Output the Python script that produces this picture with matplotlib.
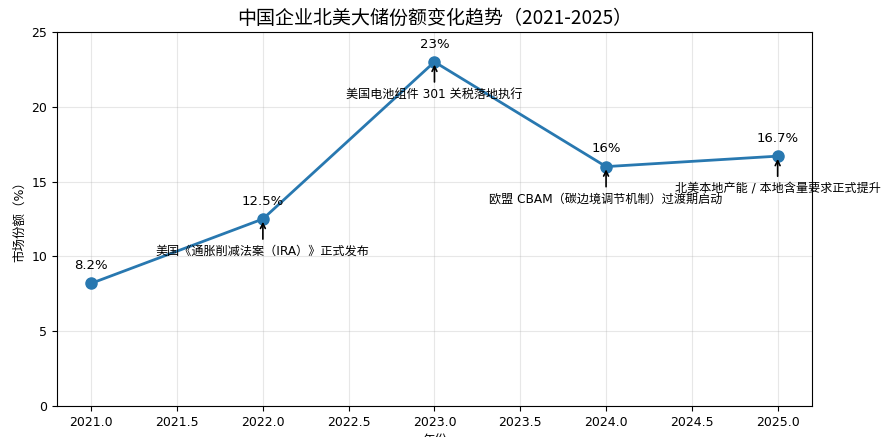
import matplotlib.pyplot as plt

plt.rcParams['font.family'] = ['DejaVu Sans', 'Noto Sans CJK SC']

anos = [2021, 2022, 2023, 2024, 2025]
participacao = [8.2, 12.5, 23, 16, 16.7]
rotulos = ['8.2%', '12.5%', '23%', '16%', '16.7%']
eventos = [
    None,
    '美国《通胀削减法案（IRA）》正式发布',
    '美国电池组件 301 关税落地执行',
    '欧盟 CBAM（碳边境调节机制）过渡期启动',
    '北美本地产能 / 本地含量要求正式提升',
]

fig = plt.figure(figsize=(8.82, 4.37), dpi=100)
ax = fig.add_axes([0.0646, 0.0709, 0.856, 0.856])

ax.plot(anos, participacao, marker='o', color='#2878b0', linewidth=2, markersize=8)

# rótulos de valor acima dos pontos
for x, y, r in zip(anos, participacao, rotulos):
    ax.annotate(r, (x, y), xytext=(0, 8), textcoords='offset points',
                ha='center', va='bottom', fontsize=9.5)

# eventos com seta apontando para o ponto
for x, y, ev in zip(anos, participacao, eventos):
    if ev is None:
        continue
    ax.annotate(ev, xy=(x, y), xytext=(x, y - 2.15), ha='center', va='center',
                fontsize=8.7, annotation_clip=False,
                arrowprops=dict(arrowstyle='->', color='black', lw=1.2))

ax.set_ylim(0, 25)
ax.set_xlim(2020.8, 2025.2)
ax.grid(True, alpha=0.3)
ax.set_title('中国企业北美大储份额变化趋势（2021-2025）', fontsize=13.7,
             family=['Noto Sans CJK SC', 'DejaVu Sans'])
ax.set_xlabel('年份', fontsize=9)
ax.set_ylabel('市场份额（%）', fontsize=9)
ax.tick_params(labelsize=9)

fig.savefig('out.png', dpi=100)
